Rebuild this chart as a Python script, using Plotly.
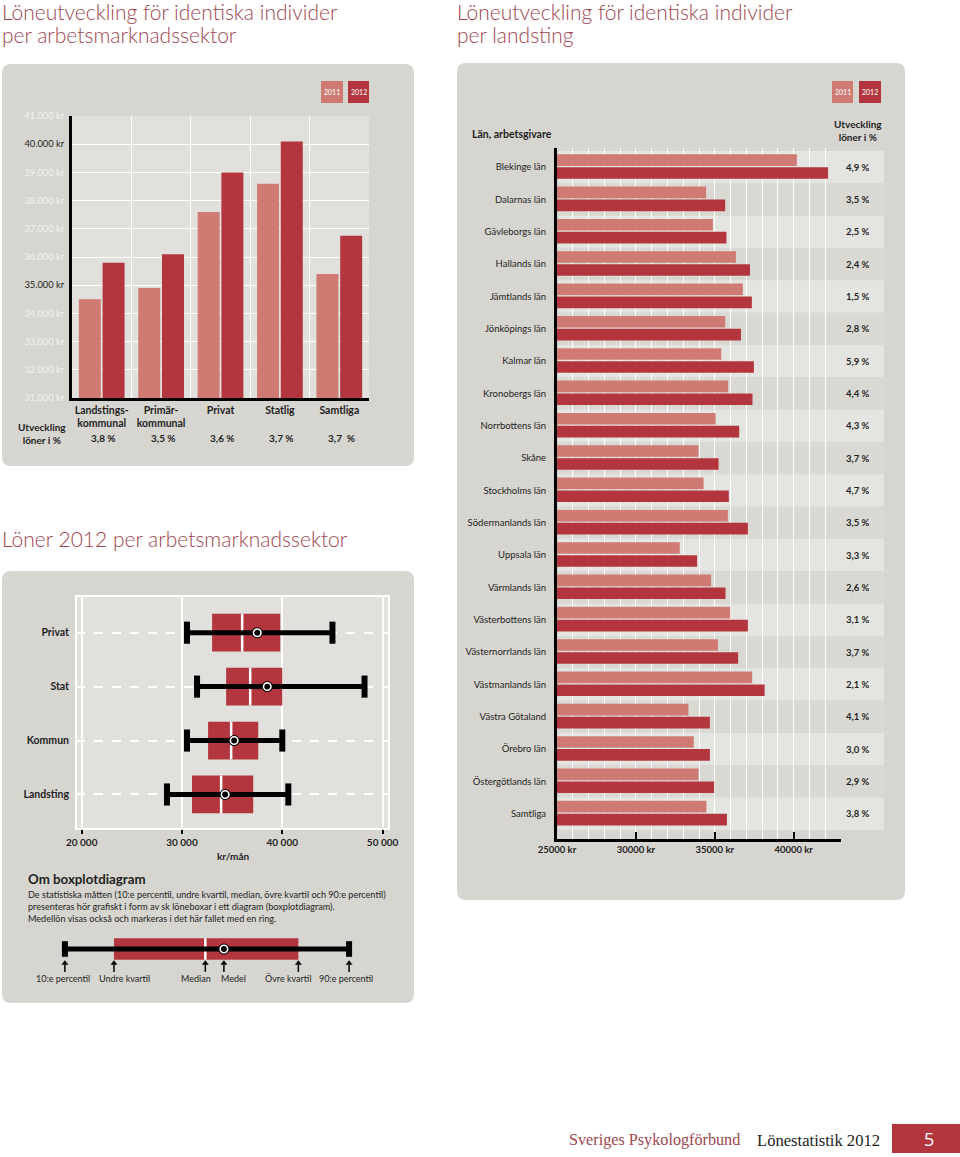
import plotly.graph_objects as go

W, H = 960, 1157

# ---------------- data ----------------
sectors = ["Landstings-<br>kommunal", "Primär-<br>kommunal", "Privat", "Statlig", "Samtliga"]
sal_2011 = [34500, 34900, 37600, 38600, 35400]
sal_2012 = [35800, 36100, 39000, 40100, 36750]
growth_sector = ["3,8 %", "3,5 %", "3,6 %", "3,7 %", "3,7\u00a0 %"]
sector_yticks = [31000, 32000, 33000, 34000, 35000, 36000, 37000, 38000, 39000, 40000, 41000]
sector_yticklabels = ["31.000 kr", "32.000 kr", "33.000 kr", "34.000 kr",
                      "<span style='color:#1e1e1e'>35.000 kr</span>", "36.000 kr", "37.000 kr",
                      "38.000 kr", "39.000 kr", "<span style='color:#1e1e1e'>40.000 kr</span>", "41.000 kr"]

lan = ["Blekinge län", "Dalarnas län", "Gävleborgs län", "Hallands län", "Jämtlands län",
       "Jönköpings län", "Kalmar län", "Kronobergs län", "Norrbottens län", "Skåne",
       "Stockholms län", "Södermanlands län", "Uppsala län", "Värmlands län",
       "Västerbottens län", "Västernorrlands län", "Västmanlands län", "Västra Götaland",
       "Örebro län", "Östergötlands län", "Samtliga"]
lan_2011 = [40200, 34450, 34880, 36340, 36780, 35660, 35410, 35850, 35050, 33970, 34290,
            35830, 32780, 34770, 35980, 35200, 37370, 33330, 33670, 33970, 34470]
lan_2012 = [42180, 35660, 35740, 37230, 37350, 36660, 37480, 37390, 36550, 35240, 35890,
            37100, 33880, 35680, 37100, 36480, 38160, 34690, 34690, 34960, 35770]
growth_lan = ["4,9 %", "3,5 %", "2,5 %", "2,4 %", "1,5 %", "2,8 %", "5,9 %", "4,4 %", "4,3 %",
              "3,7 %", "4,7 %", "3,5 %", "3,3 %", "2,6 %", "3,1 %", "3,7 %", "2,1 %", "4,1 %",
              "3,0 %", "2,9 %", "3,8 %"]
lan_xticks = [25000, 30000, 35000, 40000]
lan_xticklabels = ["25000 kr", "30000 kr", "35000 kr", "40000 kr"]

box_groups = ["Privat", "Stat", "Kommun", "Landsting"]
p10 = [30500, 31500, 30500, 28500]
q1 = [33000, 34400, 32600, 31000]
median = [36000, 36800, 34900, 33900]
q3 = [39800, 40000, 37600, 37100]
p90 = [45000, 48200, 40000, 40600]
mean = [37500, 38500, 35200, 34300]
box_xticks = [20000, 30000, 40000, 50000]
box_xticklabels = ["20 000", "30 000", "40 000", "50 000"]

# explanatory example box
ex_p10, ex_q1, ex_median, ex_mean, ex_q3, ex_p90 = 30000, 32900, 38300, 39400, 43800, 46800
ex_labels = ["10:e percentil", "Undre kvartil", "Median", "Medel", "Övre kvartil", "90:e percentil"]

# ---------------- style ----------------
LIGHT = "#cf7b73"
DARK = "#b3363f"
PANEL = "#d6d5d0"
INNER = "#e1e0dc"
BAND_L = "#e4e4e0"
BAND_D = "#d9d8d3"
TITLE_C = "#a04650"
TXT = "#1e1e1e"
FONT = "Lato"


def px(x):
    return x / W


def py(y):
    return 1 - y / H


def P(x, y):
    return f"{px(x):.5f},{py(y):.5f}"


def rrect(x0, y0, x1, y1, r, color):
    path = (f"M {P(x0 + r, y0)} L {P(x1 - r, y0)} Q {P(x1, y0)} {P(x1, y0 + r)} "
            f"L {P(x1, y1 - r)} Q {P(x1, y1)} {P(x1 - r, y1)} L {P(x0 + r, y1)} "
            f"Q {P(x0, y1)} {P(x0, y1 - r)} L {P(x0, y0 + r)} Q {P(x0, y0)} {P(x0 + r, y0)} Z")
    return dict(type="path", path=path, xref="paper", yref="paper", fillcolor=color,
                line=dict(width=0), layer="below")


fig = go.Figure()

# ---------------- panel 1: bars per sector ----------------
fig.add_trace(go.Bar(x=sectors, y=sal_2011, marker=dict(color=LIGHT, line=dict(width=0)),
                     width=0.37, offset=-0.385, xaxis="x", yaxis="y", name="2011"))
fig.add_trace(go.Bar(x=sectors, y=sal_2012, marker=dict(color=DARK, line=dict(width=0)),
                     width=0.37, offset=0.015, xaxis="x", yaxis="y", name="2012"))

# ---------------- panel 2: bars per county ----------------
idx = list(range(len(lan)))
fig.add_trace(go.Bar(y=idx, x=lan_2011, orientation="h", marker=dict(color=LIGHT, line=dict(width=0)),
                     width=0.36, offset=-0.40, xaxis="x2", yaxis="y2", name="2011"))
fig.add_trace(go.Bar(y=idx, x=lan_2012, orientation="h", marker=dict(color=DARK, line=dict(width=0)),
                     width=0.36, offset=0.0, xaxis="x2", yaxis="y2", name="2012"))

# ---------------- panel 3: box plots ----------------
bidx = list(range(len(box_groups)))


def add_box(xa, ya, ys, a10, aq1, amed, aq3, a90, amean, half, cap):
    fig.add_trace(go.Bar(y=ys, x=[b - a for a, b in zip(aq1, aq3)], base=aq1, orientation="h",
                         marker=dict(color=DARK, line=dict(width=0)), width=2 * half, offset=-half,
                         xaxis=xa, yaxis=ya, hoverinfo="skip"))
    mx, my = [], []
    for y, m in zip(ys, amed):
        mx += [m, m, None]
        my += [y - half, y + half, None]
    fig.add_trace(go.Scatter(x=mx, y=my, mode="lines", line=dict(color="white", width=2.5),
                             xaxis=xa, yaxis=ya, hoverinfo="skip"))
    wx, wy = [], []
    for y, a, b in zip(ys, a10, a90):
        wx += [a, b, None]
        wy += [y, y, None]
    fig.add_trace(go.Scatter(x=wx, y=wy, mode="lines", line=dict(color="black", width=5),
                             xaxis=xa, yaxis=ya, hoverinfo="skip"))
    cx, cy = [], []
    for y, a, b in zip(ys, a10, a90):
        cx += [a, a, None, b, b, None]
        cy += [y - cap, y + cap, None, y - cap, y + cap, None]
    fig.add_trace(go.Scatter(x=cx, y=cy, mode="lines", line=dict(color="black", width=6),
                             xaxis=xa, yaxis=ya, hoverinfo="skip"))
    fig.add_trace(go.Scatter(x=amean, y=ys, mode="markers",
                             marker=dict(symbol="circle", size=11, color="black"),
                             xaxis=xa, yaxis=ya, hoverinfo="skip", cliponaxis=False))
    fig.add_trace(go.Scatter(x=amean, y=ys, mode="markers",
                             marker=dict(symbol="circle", size=7.5, color="black",
                                         line=dict(color="white", width=1.6)),
                             xaxis=xa, yaxis=ya, hoverinfo="skip", cliponaxis=False))


add_box("x3", "y3", bidx, p10, q1, median, q3, p90, mean, 0.35, 0.205)

# ---------------- explanatory example ----------------
ex_vals = [ex_p10, ex_q1, ex_median, ex_mean, ex_q3, ex_p90]
add_box("x4", "y4", [0], [ex_p10], [ex_q1], [ex_median], [ex_q3], [ex_p90], [ex_mean], 0.415, 0.30)
ax_, ay_ = [], []
for v in ex_vals:
    ax_ += [v, v, None]
    ay_ += [-0.88, -0.60, None]
fig.add_trace(go.Scatter(x=ax_, y=ay_, mode="lines", line=dict(color="black", width=1.5),
                         xaxis="x4", yaxis="y4", hoverinfo="skip"))
fig.add_trace(go.Scatter(x=ex_vals, y=[-0.55] * len(ex_vals), mode="markers",
                         marker=dict(symbol="triangle-up", size=6, color="black"),
                         xaxis="x4", yaxis="y4", hoverinfo="skip", cliponaxis=False))

# ---------------- shapes ----------------
shapes = [
    rrect(2, 64, 414, 466, 9, PANEL),
    rrect(457, 63, 905, 900, 9, PANEL),
    rrect(2, 571, 414, 1003, 9, PANEL),
    dict(type="rect", xref="paper", yref="paper", x0=px(72), x1=px(369), y0=py(398), y1=py(116),
         fillcolor=INNER, line=dict(width=0), layer="below"),
    dict(type="rect", xref="paper", yref="paper", x0=px(76), x1=px(389), y0=py(829), y1=py(596),
         fillcolor=INNER, line=dict(color="white", width=2), layer="below"),
]
for i in idx:
    shapes.append(dict(type="rect", xref="paper", yref="y2", x0=px(558), x1=px(884),
                       y0=i - 0.5, y1=i + 0.5, fillcolor=BAND_L if i % 2 == 0 else BAND_D,
                       line=dict(width=0), layer="below"))
# legend boxes
for (x0, x1, c) in [(321, 343, LIGHT), (348, 369, DARK), (832, 853, LIGHT), (859, 881, DARK)]:
    shapes.append(dict(type="rect", xref="paper", yref="paper", x0=px(x0), x1=px(x1),
                       y0=py(103), y1=py(81), fillcolor=c, line=dict(width=0)))
# footer box
shapes.append(dict(type="rect", xref="paper", yref="paper", x0=px(892), x1=px(960),
                   y0=py(1153), y1=py(1124), fillcolor=DARK, line=dict(width=0)))

# ---------------- annotations ----------------
ann = []


def A(text, x, y, size=10, color=TXT, bold=False, xanchor="left", yanchor="middle", align="left",
      family=FONT, weight=None, xref="paper", yref="paper", xshift=0):
    t = f"<b>{text}</b>" if bold else text
    d = dict(text=t, x=x, y=y, xref=xref, yref=yref, showarrow=False, xanchor=xanchor,
             yanchor=yanchor, align=align, xshift=xshift,
             font=dict(family=family, size=size, color=color))
    if weight:
        d["font"]["weight"] = weight
    ann.append(d)


A("Löneutveckling för identiska individer", px(0), py(11), size=21, color=TITLE_C, weight=300)
A("per arbetsmarknadssektor", px(0), py(34), size=21, color=TITLE_C, weight=300)
A("Löneutveckling för identiska individer", px(455), py(11), size=21, color=TITLE_C, weight=300)
A("per landsting", px(455), py(34), size=21, color=TITLE_C, weight=300)
A("Löner 2012 per arbetsmarknadssektor", px(0), py(538), size=21, color=TITLE_C, weight=300)

for xc, t in [(332, "2011"), (358.5, "2012"), (842.5, "2011"), (870, "2012")]:
    A(t, px(xc), py(92), size=7, color="white", xanchor="center")

A("Utveckling<br>löner i %", px(68), py(433), size=10, bold=True, xanchor="right", align="center")
for s, g in zip(sectors, growth_sector):
    A(g, s, py(438), size=10, bold=True, xanchor="center", xref="x", xshift=2)

A("Län, arbetsgivare", px(470), py(134), size=10.5, bold=True)
A("Utveckling<br>löner i %", px(858), py(130), size=10, bold=True, xanchor="center", align="center")
for i, g in zip(idx, growth_lan):
    A(g, px(858), i, size=9.5, bold=True, xanchor="center", yref="y2")

A("kr/mån", px(233), py(856), size=10, bold=True, xanchor="center")
A("Om boxplotdiagram", px(26), py(879), size=13.3, bold=True)
A("De statistiska måtten (10:e percentil, undre kvartil, median, övre kvartil och 90:e percentil)<br>"
  "presenteras hör grafiskt i form av sk löneboxar i ett diagram (boxplotdiagram).<br>"
  "Medellön visas också och markeras i det här fallet med en ring.",
  px(26), py(887), size=9.1, yanchor="top")
for v, t, sh in zip(ex_vals, ex_labels, [-2, 11, -9, 10, -10, -3]):
    A(t, v, py(978), size=9, xanchor="center", xref="x4", xshift=sh)

A("Sveriges Psykologförbund", px(567), py(1140), size=16.2, color=TITLE_C, family="Liberation Serif")
A("Lönestatistik 2012", px(755), py(1140), size=16.6, color=TXT, family="Liberation Serif")
A("5", px(929), py(1139), size=18, color="white", xanchor="center", family="Open Sans")

# ---------------- layout ----------------
fig.update_layout(
    width=W, height=H, margin=dict(l=0, r=0, t=0, b=0, pad=0, autoexpand=False),
    paper_bgcolor="white", plot_bgcolor="rgba(0,0,0,0)",
    barmode="overlay", showlegend=False,
    font=dict(family=FONT, color=TXT),
    shapes=shapes, annotations=ann,
    xaxis=dict(domain=[px(72), px(369)], anchor="y", type="category", tickson="boundaries",
               showgrid=True, gridcolor="white", gridwidth=1, showline=True, linecolor="black",
               linewidth=3, ticks="", tickangle=0, tickfont=dict(size=10.5, color=TXT, weight="bold"),
               automargin=False),
    yaxis=dict(domain=[py(398), py(116)], anchor="x", range=[31000, 41000],
               tickvals=sector_yticks, ticktext=sector_yticklabels,
               tickfont=dict(size=9.3, color="#f3f3f1"), showgrid=True, gridcolor="white",
               gridwidth=1, showline=True, linecolor="black", linewidth=3, zeroline=False,
               ticks="", ticklabelstandoff=3, automargin=False),
    xaxis2=dict(domain=[px(557), px(841)], anchor="y2", range=[25000, 43000],
                tickvals=lan_xticks, ticktext=lan_xticklabels,
                tickfont=dict(size=9.5, color=TXT, weight="bold"), ticks="inside", ticklen=7,
                tickwidth=2, tickcolor="black", showline=True, linecolor="black", linewidth=3,
                showgrid=True, gridcolor="white", gridwidth=1, zeroline=False, automargin=False,
                minor=dict(dtick=1000, tick0=25000, showgrid=True, gridcolor="white",
                           gridwidth=1, ticks="")),
    yaxis2=dict(domain=[py(839), py(148)], anchor="x2", range=[20.78, -0.593],
                tickvals=idx, ticktext=lan, tickfont=dict(size=9.5, color=TXT), ticks="",
                showgrid=False, showline=True, linecolor="black", linewidth=3, zeroline=False,
                ticklabelstandoff=6, automargin=False),
    xaxis3=dict(domain=[px(76), px(389)], anchor="y3", range=[19430, 50640],
                tickvals=box_xticks, ticktext=box_xticklabels,
                tickfont=dict(size=10, color=TXT, weight="bold"), ticks="outside", ticklen=4,
                tickwidth=2, tickcolor="black", showgrid=True, gridcolor="white", gridwidth=1.5,
                showline=False, zeroline=False, automargin=False),
    yaxis3=dict(domain=[py(829), py(596)], anchor="x3", range=[3.64, -0.68],
                tickvals=bidx, ticktext=box_groups,
                tickfont=dict(size=10.5, color=TXT, weight="bold"), ticks="", showgrid=True,
                gridcolor="white", gridwidth=1.5, griddash="dash", zeroline=False,
                showline=False, ticklabelstandoff=6, automargin=False),
    xaxis4=dict(domain=[px(48), px(366)], anchor="y4", range=[29000, 47800], visible=False,
                automargin=False),
    yaxis4=dict(domain=[py(975), py(923)], anchor="x4", range=[-1, 1], visible=False,
                automargin=False),
)

fig.write_html("out.html")
